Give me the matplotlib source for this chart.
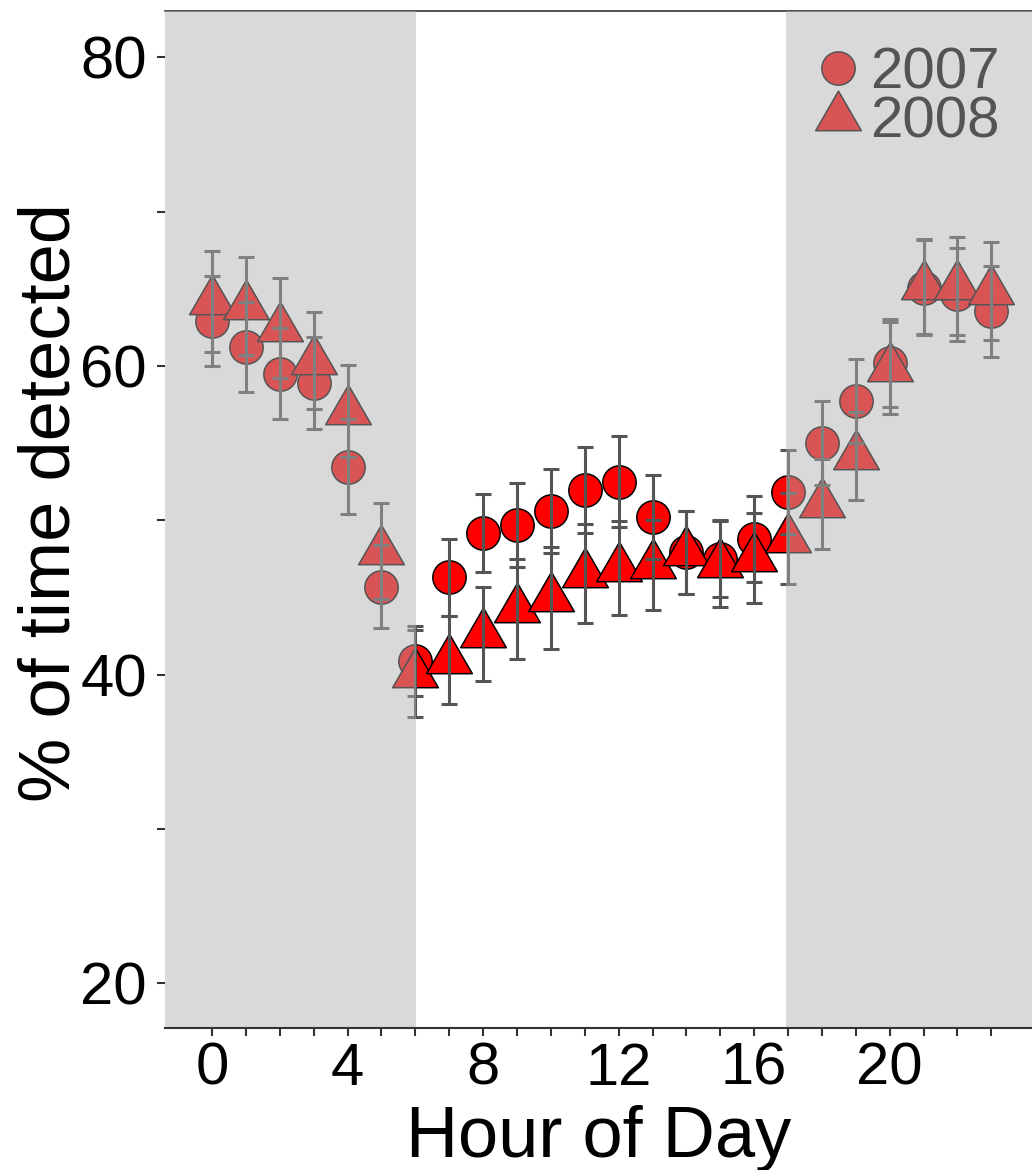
import numpy as np
import matplotlib.pyplot as plt
from matplotlib.lines import Line2D
from matplotlib.path import Path

plt.rcParams['font.family'] = ['Liberation Sans', 'DejaVu Sans']

hours = np.arange(24)

# 2007 (circles)
mean_2007 = [62.94, 61.22, 59.51, 58.92, 53.46, 45.70, 40.87, 46.30, 49.17, 49.67,
             50.61, 51.97, 52.51, 50.21, 47.92, 47.52, 48.80, 51.81, 55.00, 57.70,
             60.19, 65.08, 64.63, 63.53]
se_2007 = [2.92, 2.90, 2.93, 2.98, 3.07, 2.70, 2.25, 2.50, 2.50, 2.73,
           2.73, 2.78, 2.92, 2.70, 2.70, 2.50, 2.77, 2.72, 2.70, 2.72,
           2.85, 3.10, 3.00, 2.97]

# 2008 (triangles)
mean_2008 = [64.19, 63.91, 62.44, 60.34, 57.09, 48.03, 40.05, 40.94, 42.63, 44.22,
             44.95, 46.55, 46.91, 47.11, 47.92, 47.15, 47.56, 48.80, 51.04, 54.18,
             59.88, 65.15, 65.20, 64.85]
se_2008 = [3.29, 3.18, 3.23, 3.16, 2.97, 3.10, 2.83, 2.85, 3.05, 3.24,
           3.30, 3.20, 3.02, 2.90, 2.70, 2.80, 2.90, 2.95, 2.90, 2.84,
           2.98, 3.10, 3.18, 3.20]

# night periods (shaded)
sunrise = 6.03
sunset = 16.94

# triangle centred on its centroid (like R's pch 24)
tri = Path([(0, 1), (-0.866, -0.5), (0.866, -0.5), (0, 1)],
           [Path.MOVETO, Path.LINETO, Path.LINETO, Path.CLOSEPOLY])

fig = plt.figure(figsize=(10.32, 11.7), dpi=100)
ax = fig.add_axes([165/1032, 1 - 1028/1170, 1 - 165/1032, (1028 - 11)/1170])

circ_kw = dict(linestyle='none', marker='o', markersize=24, markerfacecolor='#ff0000',
               markeredgecolor='black', markeredgewidth=1.1)
tri_kw = dict(linestyle='none', marker=tri, markersize=38, markerfacecolor='#ff0000',
              markeredgecolor='black', markeredgewidth=1.1)

ax.plot(hours, mean_2007, zorder=3, **circ_kw)
ax.plot(hours, mean_2008, zorder=3.1, **tri_kw)
for m, s in [(mean_2007, se_2007), (mean_2008, se_2008)]:
    ax.errorbar(hours, m, yerr=s, fmt='none', ecolor='#555555', elinewidth=2.2,
                capsize=5.6, capthick=2.2, zorder=4)

handles = [Line2D([], [], **circ_kw), Line2D([], [], **tri_kw)]
leg = ax.legend(handles, ['2007', '2008'], loc='upper right', frameon=False,
                fontsize=42, handlelength=0.8, handletextpad=0.15, labelspacing=-0.08,
                borderaxespad=0.0, bbox_to_anchor=(0.99, 0.988))
leg.set_zorder(5)

# grey night shading laid over everything
ax.axvspan(-5, sunrise, color='#b1b1b1', alpha=0.48, lw=0, zorder=6)
ax.axvspan(sunset, 30, color='#b1b1b1', alpha=0.48, lw=0, zorder=6)

ax.set_xlim(-1.39, 24.2)
ax.set_ylim(17.1, 83.0)

ax.set_xticks(hours)
ax.set_xticklabels([str(h) if h % 4 == 0 and h <= 20 else '' for h in hours])
ax.set_yticks([20, 30, 40, 50, 60, 70, 80])
ax.set_yticklabels(['20', '', '40', '', '60', '', '80'])
ax.tick_params(axis='both', labelsize=43, length=6, width=1.5, color='#333333', labelcolor='black')
ax.tick_params(axis='y', pad=7)
ax.tick_params(axis='x', pad=4)

ax.spines['left'].set_visible(False)
ax.spines['right'].set_visible(False)
ax.spines['top'].set_color('#333333')
ax.spines['top'].set_linewidth(1.2)
ax.spines['top'].set_zorder(2.5)
ax.spines['bottom'].set_color('#333333')
ax.spines['bottom'].set_linewidth(1.5)
ax.spines['bottom'].set_zorder(7)

ax.set_xlabel('Hour of Day', fontsize=52, labelpad=6)
ax.set_ylabel('% of time detected', fontsize=52, labelpad=-3)
ax.yaxis.label.set_y(0.517)

fig.savefig('out.png', dpi=100)
